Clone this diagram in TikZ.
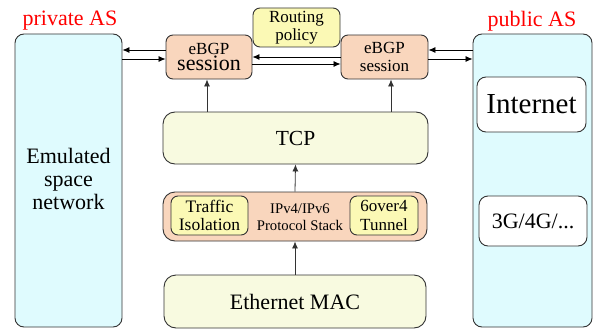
\documentclass[tikz,border=0pt]{standalone}
\usepackage{fontspec}
\setmainfont{Liberation Serif}
\newfontfamily\diagfont{Liberation Serif}
\usetikzlibrary{arrows.meta}
\definecolor{ascyan}{HTML}{DFFBFE}
\definecolor{peach}{HTML}{F9D6BD}
\definecolor{softyellow}{HTML}{FBF9B5}
\definecolor{paleyellow}{HTML}{F8FAE0}
\definecolor{edge}{HTML}{333333}
\newcommand\fsz[2]{\diagfont\fontsize{#1}{#2}\selectfont}
\tikzset{
  box/.style={draw=edge, line width=0.9pt, rounded corners=9pt, inner sep=0pt, align=center, text=black},
  asbox/.style={box, fill=ascyan},
  sessbox/.style={box, fill=peach, rounded corners=7pt},
  notebox/.style={box, fill=softyellow, rounded corners=7pt},
  layerbox/.style={box, fill=paleyellow, rounded corners=12pt},
  netbox/.style={box, fill=white, rounded corners=9pt},
  aslabel/.style={text=red, font=\fsz{22}{24}},
  arr/.style={draw=black, line width=0.8pt, -{Latex[length=7pt,width=6pt]}},
  vline/.style={draw=edge, line width=0.8pt, -{Latex[length=7pt,width=6pt]}}
}
\begin{document}
\begin{tikzpicture}[x=1pt,y=-1pt]
\useasboundingbox (0,0) rectangle (596,329);

% autonomous systems on both sides
\node[asbox, minimum width=107pt, minimum height=293pt] (priv) at (68.5,180.5) {};
\node[font=\fsz{22}{22.7}, align=center] (emu) at (68.5,179) {Emulated\\space\\network};
\node[aslabel] (privlbl) at (70,21) {private AS};

\node[asbox, minimum width=119pt, minimum height=293pt] (pub) at (532.5,180.5) {};
\node[aslabel] (publbl) at (532,21) {public AS};
\node[netbox, minimum width=109pt, minimum height=55pt, font=\fsz{29}{30}] (inet) at (531.5,104.5) {Internet};
\node[netbox, minimum width=108pt, minimum height=50pt, font=\fsz{22}{23}] (mob) at (533,221) {3G/4G/...};

% BGP sessions and routing policy
\node[sessbox, minimum width=86pt, minimum height=44pt] (eL) at (209,57)
  {{\fsz{17}{17}eBGP}\\[1pt]{\fsz{22}{20}session}};
\node[sessbox, minimum width=87pt, minimum height=44pt, font=\fsz{17}{18.5}] (eR) at (384.5,57) {eBGP\\session};
\node[notebox, minimum width=87pt, minimum height=39pt, font=\fsz{17}{18}] (pol) at (296.5,27.5) {Routing\\policy};

% protocol layers
\node[layerbox, minimum width=265pt, minimum height=52pt, font=\fsz{21.5}{23}] (tcp) at (295.5,138) {TCP};
\node[layerbox, fill=peach, minimum width=264pt, minimum height=49pt] (stack) at (295,216.5) {};
\node[font=\fsz{14.7}{17.5}, align=center] (ipst) at (300,217) {IPv4/IPv6\\Protocol Stack};
\node[notebox, minimum width=77pt, minimum height=39pt, font=\fsz{17.5}{18.5}] (iso) at (209.5,215.5) {Traffic\\Isolation};
\node[notebox, minimum width=68pt, minimum height=39pt, font=\fsz{17}{18.5}] (tun) at (384,215.5) {6over4\\Tunnel};
\node[layerbox, minimum width=262pt, minimum height=53pt, font=\fsz{22}{23}] (mac) at (295,301.5) {Ethernet MAC};

% session links
\draw[arr] ([yshift=7pt]eL.west) -- ([yshift=7pt]eL.west -| priv.east);
\draw[arr] ([yshift=-2pt]eL.west -| priv.east) -- ([yshift=-2pt]eL.west);
\draw[arr] (eR.west) -- (eL.east);
\draw[arr] ([yshift=-7pt]eL.east) -- ([yshift=-7pt]eR.west);
\draw[arr] ([yshift=7pt]pub.west |- eR.east) -- ([yshift=7pt]eR.east);
\draw[arr] ([yshift=-2pt]eR.east) -- ([yshift=-2pt]pub.west |- eR.east);

% layer links
\draw[vline] ([xshift=-2pt]eL.south |- tcp.north) -- ([xshift=-2pt]eL.south);
\draw[vline] ([xshift=6.5pt]eR.south |- tcp.north) -- ([xshift=6.5pt]eR.south);
\draw[vline] (stack.north) -- (tcp.south);
\draw[vline] (mac.north) -- (stack.south);
\end{tikzpicture}
\end{document}
